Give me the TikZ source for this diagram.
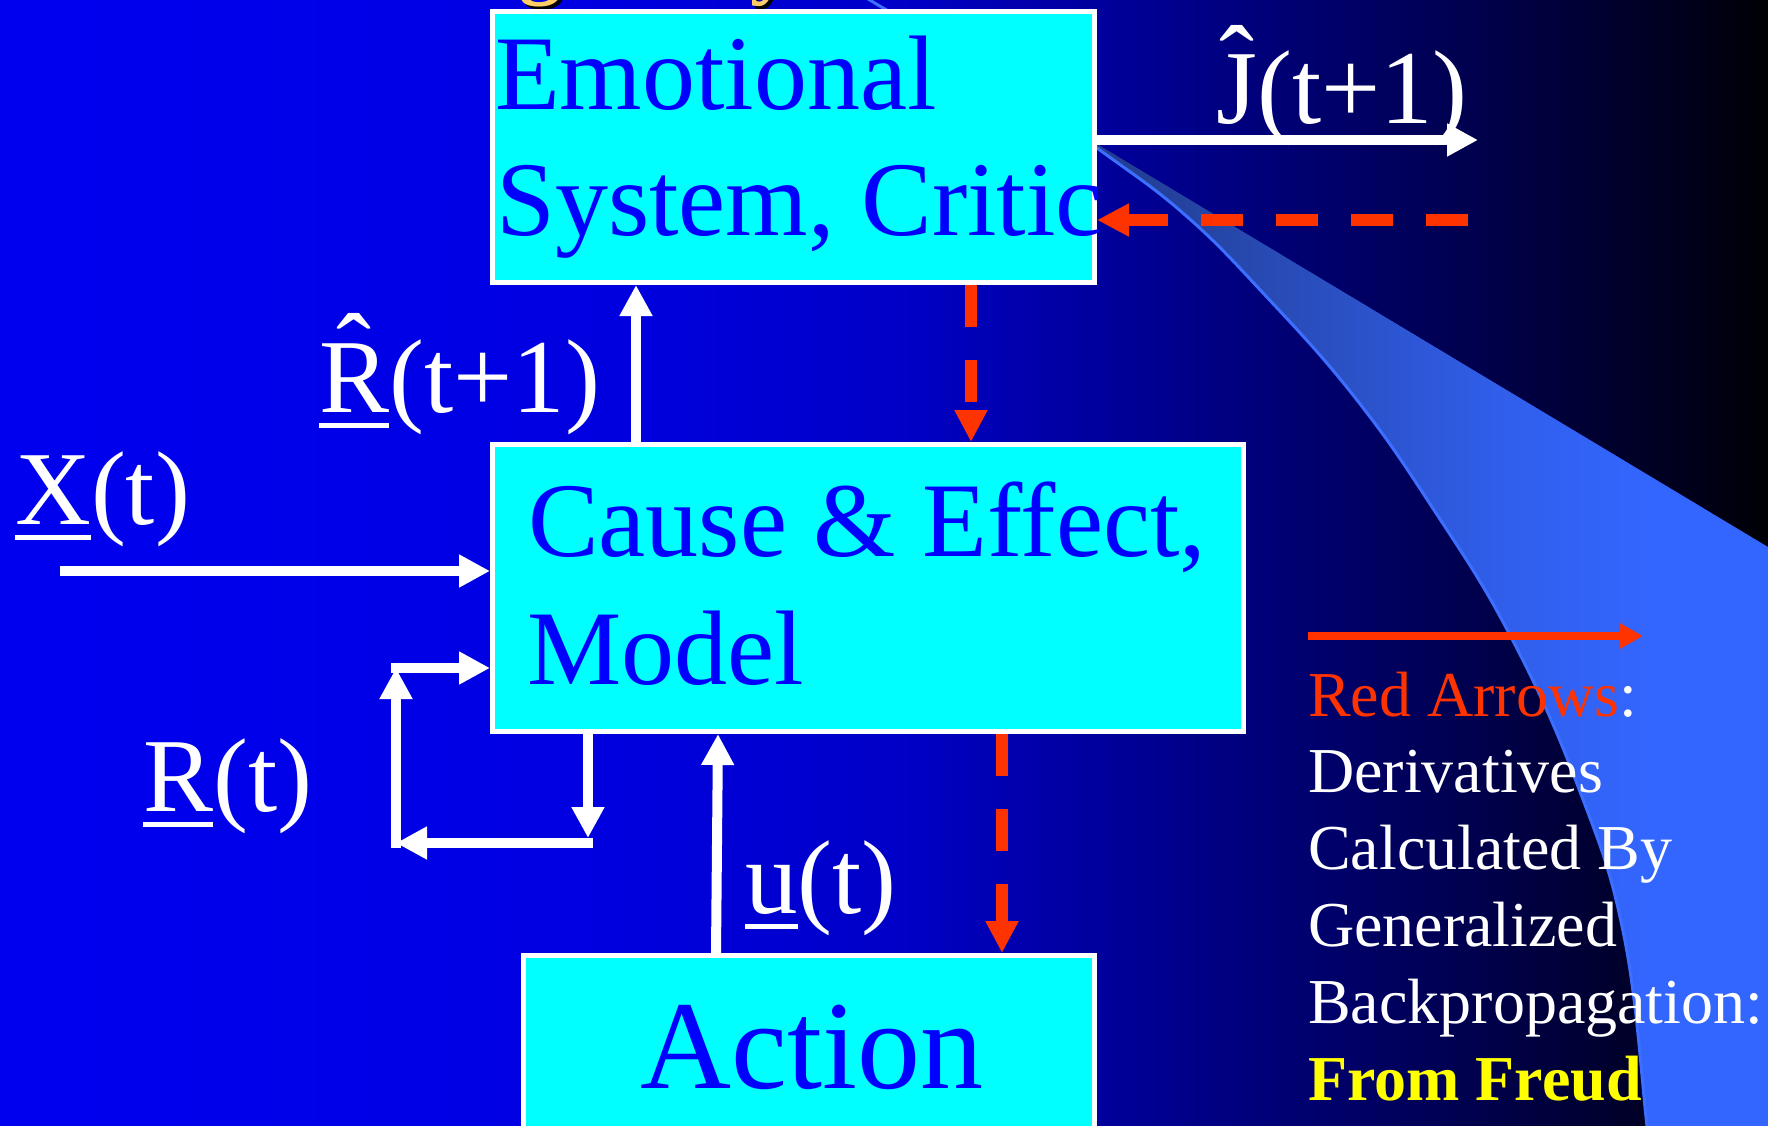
\documentclass[tikz,border=0pt]{standalone}
\usepackage{fontspec}
\setmainfont{Liberation Serif}
\usetikzlibrary{arrows.meta}

\definecolor{boxcyan}{RGB}{0,255,255}
\definecolor{boxblue}{RGB}{0,0,255}
\definecolor{redarr}{RGB}{255,51,0}
\definecolor{swline}{RGB}{60,110,255}
\definecolor{titlegold}{RGB}{255,204,102}
\definecolor{freud}{RGB}{255,255,0}

% background: bright blue on the left fading to black on the right
\pgfdeclarehorizontalshading{bgshade}{100bp}{%
  rgb(0bp)=(0,0,0.94); rgb(25bp)=(0,0,0.94); rgb(37.7bp)=(0,0,0.9);
  rgb(42.8bp)=(0,0,0.87); rgb(50.5bp)=(0,0,0.78); rgb(56.9bp)=(0,0,0.59);
  rgb(61.8bp)=(0,0,0.44); rgb(66.5bp)=(0,0,0.31); rgb(71.2bp)=(0,0,0.16);
  rgb(75bp)=(0,0,0.02); rgb(100bp)=(0,0,0.02)}
% swoosh: slate blue at its tip, light blue further right
\pgfdeclarehorizontalshading{wedgeshade}{100bp}{%
  rgb(0bp)=(0.13,0.235,0.55); rgb(25bp)=(0.13,0.235,0.55);
  rgb(40bp)=(0.16,0.3,0.73); rgb(55bp)=(0.19,0.37,0.92);
  rgb(66bp)=(0.2,0.4,1); rgb(100bp)=(0.2,0.4,1)}

% circumflex set over a capital
\newcommand\hatted[1]{\ooalign{#1\cr\hidewidth\raisebox{0.24em}{\char"02C6}\hidewidth\cr}}
% heavy underline bar
\newcommand\ubar[1]{\setbox0=\hbox{#1}\rlap{\rule[-0.155em]{\wd0}{0.055em}}\box0}

\begin{document}
\begin{tikzpicture}[x=1pt,y=-1pt,
  boxnode/.style={draw=white, line width=5pt, fill=boxcyan, inner sep=0pt},
  boxtext/.style={anchor=base west, inner sep=0pt, text=boxblue,
                  font=\fontsize{106}{127}\selectfont},
  lbltext/.style={anchor=base west, inner sep=0pt, text=white,
                  font=\fontsize{105}{126}\selectfont},
  legtext/.style={anchor=base west, inner sep=0pt, text=white,
                  font=\fontsize{64}{77}\selectfont},
  titleglyph/.style={anchor=base west, inner sep=0pt,
                  font=\fontsize{84}{100}\selectfont\bfseries},
  warrow/.style={draw=white, line width=10pt,
                 -{Triangle[length=31pt,width=31pt]}},
  rdash/.style={draw=redarr, line width=11.5pt, dash pattern=on 42pt off 33pt,
                -{Triangle[length=32pt,width=31pt]}},
  legarrow/.style={draw=redarr, line width=8.5pt,
                   -{Triangle[length=23pt,width=24pt]}}]

\useasboundingbox (0,0) rectangle (1768,1126);
\shade[shading=bgshade] (0,0) rectangle (1768,1126);

% swoosh on the right
\coordinate (apex) at (1097,144);
\shade[shading=wedgeshade] (apex) -- (1768,547) -- (1768,1130) -- (1648,1130)
  -- plot[smooth, tension=0.7] coordinates {(1647,1126) (1624,936) (1579,789)
     (1511,637) (1432,507) (1353,395) (1263,293) (1184,214) (1097,148)}
  -- cycle;
\draw[swline, line width=3pt] plot[smooth, tension=0.7] coordinates {(850,-12)
  (873,2) (990,72) (1097,148) (1184,214) (1263,293) (1353,395) (1432,507)
  (1511,637) (1579,789) (1624,936) (1647,1126) (1649,1140)};

% descenders of the heading above
\node[titleglyph, text=black] (tgs) at (522,-8) {g};
\node[titleglyph, text=titlegold] (tg) at (519,-11) {g};
\node[titleglyph, text=black] (tys) at (753,-8) {y};
\node[titleglyph, text=titlegold] (ty) at (750,-11) {y};

% blocks
\node[boxnode, minimum width=602pt, minimum height=271pt] (emo) at (793.5,147) {};
\node[boxnode, minimum width=751pt, minimum height=287pt] (cause) at (868,588) {};
\node[boxnode, minimum width=571pt, minimum height=245pt] (act) at (809,1078) {};

\node[boxtext] (emoA) at (495,110) {Emotional};
\node[boxtext] (emoB) at (496,235) {System, Critic};
\node[boxtext] (causeA) at (528,556) {Cause \& Effect,};
\node[boxtext] (causeB) at (527,684) {Model};
\node[boxtext, font=\fontsize{126}{150}\selectfont] (actA) at (640,1088) {Action};

% white signal arrows
\coordinate (xin) at (60,571);
\draw[warrow] (xin) -- (xin -| cause.west);
\coordinate (rhx) at (636,0);
\draw[warrow] (rhx |- cause.north) -- (rhx |- emo.south);
\coordinate (br) at (588,843);
\coordinate (bl) at (396,843);
\coordinate (tl) at (396,668);
\draw[warrow, shorten >=5pt] (br |- cause.south) -- (br);
\draw[warrow] ([xshift=5pt]br) -- (bl);
\draw[warrow] ([yshift=-5pt]bl) -- (tl);
\draw[warrow] ([xshift=-5pt]tl) -- (tl -| cause.west);
\coordinate (ub) at (716,0);
\coordinate (ut) at (718,0);
\draw[warrow] (ub |- act.north) -- (ut |- cause.south);
\coordinate (jend) at (1478,140);
\draw[warrow] (jend -| emo.east) -- (jend);

% red derivative arrows
\coordinate (rtail) at (1468,220);
\draw[rdash] (rtail) -- (rtail -| emo.east);
\coordinate (rv1) at (971,0);
\draw[rdash] (rv1 |- emo.south) -- (rv1 |- cause.north);
\coordinate (rv2) at (1002,0);
\draw[rdash] (rv2 |- cause.south) -- (rv2 |- act.north);

% signal labels
\node[lbltext] (jlab) at (1216,124) {\hatted{J}(t+1)};
\node[lbltext] (rhlab) at (319,412) {\ubar{\hatted{R}}(t+1)};
\node[lbltext] (xlab) at (15,524) {\ubar{X}(t)};
\node[lbltext] (rlab) at (143,811) {\ubar{R}(t)};
\node[lbltext] (ulab) at (745,913) {\ubar{u}(t)};

% legend
\coordinate (lg0) at (1308,636);
\coordinate (lg1) at (1643,636);
\draw[legarrow] (lg0) -- (lg1);
\node[legtext] (lgA) at (1308,716) {\textcolor{redarr}{Red Arrows}:};
\node[legtext] (lgB) at (1308,792.5) {Derivatives};
\node[legtext] (lgC) at (1308,869) {Calculated By};
\node[legtext] (lgD) at (1308,946) {Generalized};
\node[legtext] (lgE) at (1308,1023) {Backpropagation:};
\node[legtext, text=freud, font=\fontsize{64}{77}\selectfont\bfseries] (lgF) at (1308,1100) {From Freud};
\end{tikzpicture}
\end{document}
